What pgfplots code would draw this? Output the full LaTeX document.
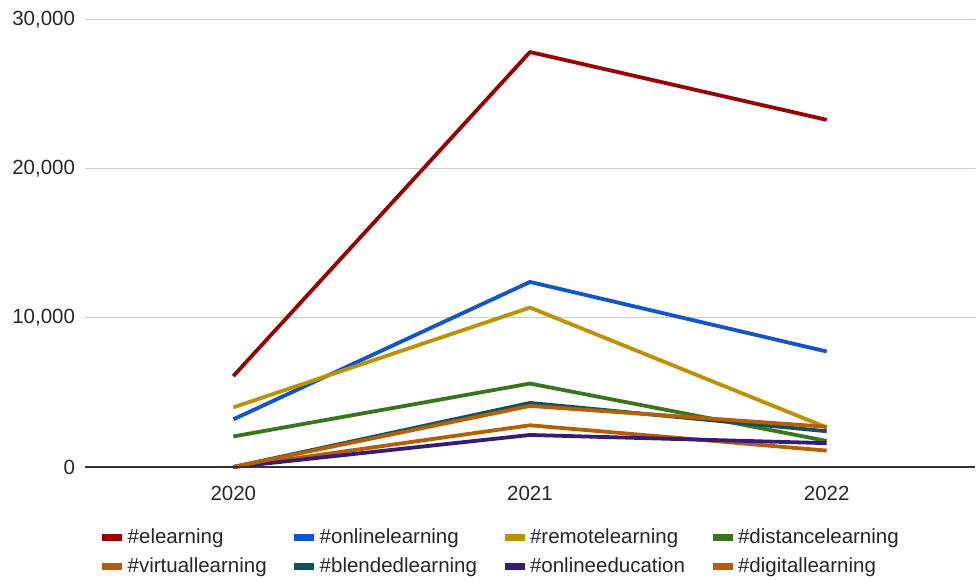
\documentclass[border=0pt]{standalone}
\usepackage{fontspec}
\setmainfont{Liberation Sans}
\usepackage{pgfplots}
\pgfplotsset{compat=1.18}
\definecolor{cEl}{HTML}{990000}
\definecolor{cOn}{HTML}{1155CC}
\definecolor{cRe}{HTML}{BF9000}
\definecolor{cDi}{HTML}{38761D}
\definecolor{cVi}{HTML}{B45F06}
\definecolor{cBl}{HTML}{134F5C}
\definecolor{cOe}{HTML}{351C75}
\definecolor{cDg}{HTML}{B45F06}
\begin{document}
\fontsize{20.5}{24}\selectfont
\begin{tikzpicture}
\begin{axis}[
  scale only axis, width=890pt, height=447pt,
  xmin=2019.5, xmax=2022.5, ymin=0, ymax=30000,
  xtick={2020,2021,2022}, ytick={0,10000,20000,30000},
  /pgf/number format/assume math mode=true,
  xticklabel style={/pgf/number format/1000 sep={}, yshift=-12pt},
  yticklabel style={/pgf/number format/1000 sep={,}, xshift=-3pt},
  scaled y ticks=false,
  axis line style={draw=none},
  major tick length=0pt,
  ymajorgrids, grid style={draw=black!20, line width=1pt},
  tick label style={font=\fontsize{20.5}{24}\selectfont, text=black!85},
  legend columns=4,
  legend style={at={(0.466,-0.19)}, anchor=center, draw=none, fill=none,
    font=\fontsize{20.5}{24}\selectfont, text=black!85,
    row sep=7pt,
    /tikz/every even column/.append style={column sep=22pt}},
  legend cell align=left,
  legend image code/.code={\draw[line width=7pt] (0pt,0pt) -- (20pt,0pt);},
  every axis plot/.append style={line width=3.8pt, line join=round, no markers},
  clip=false,
]
\addplot[cEl] coordinates {(2020,6100) (2021,27850) (2022,23300)};
\addlegendentry{\#elearning}
\addplot[cOn] coordinates {(2020,3200) (2021,12420) (2022,7750)};
\addlegendentry{\#onlinelearning}
\addplot[cRe] coordinates {(2020,4000) (2021,10700) (2022,2650)};
\addlegendentry{\#remotelearning}
\addplot[cDi] coordinates {(2020,2050) (2021,5600) (2022,1750)};
\addlegendentry{\#distancelearning}
\addplot[cVi] coordinates {(2020,0) (2021,2800) (2022,1100)};
\addlegendentry{\#virtuallearning}
\addplot[cBl] coordinates {(2020,0) (2021,4300) (2022,2400)};
\addlegendentry{\#blendedlearning}
\addplot[cOe] coordinates {(2020,0) (2021,2150) (2022,1600)};
\addlegendentry{\#onlineeducation}
\addplot[cDg] coordinates {(2020,0) (2021,4100) (2022,2700)};
\addlegendentry{\#digitallearning}
\draw[black!80, line width=1.5pt] (rel axis cs:0,0) -- (rel axis cs:1,0);
\coordinate (bl) at (rel axis cs:0,0);
\coordinate (tr) at (rel axis cs:1,1);
\end{axis}
\pgfresetboundingbox
\path ([shift={(-85pt,-113pt)}]bl) rectangle ([shift={(1pt,20pt)}]tr);
\end{tikzpicture}
\end{document}
